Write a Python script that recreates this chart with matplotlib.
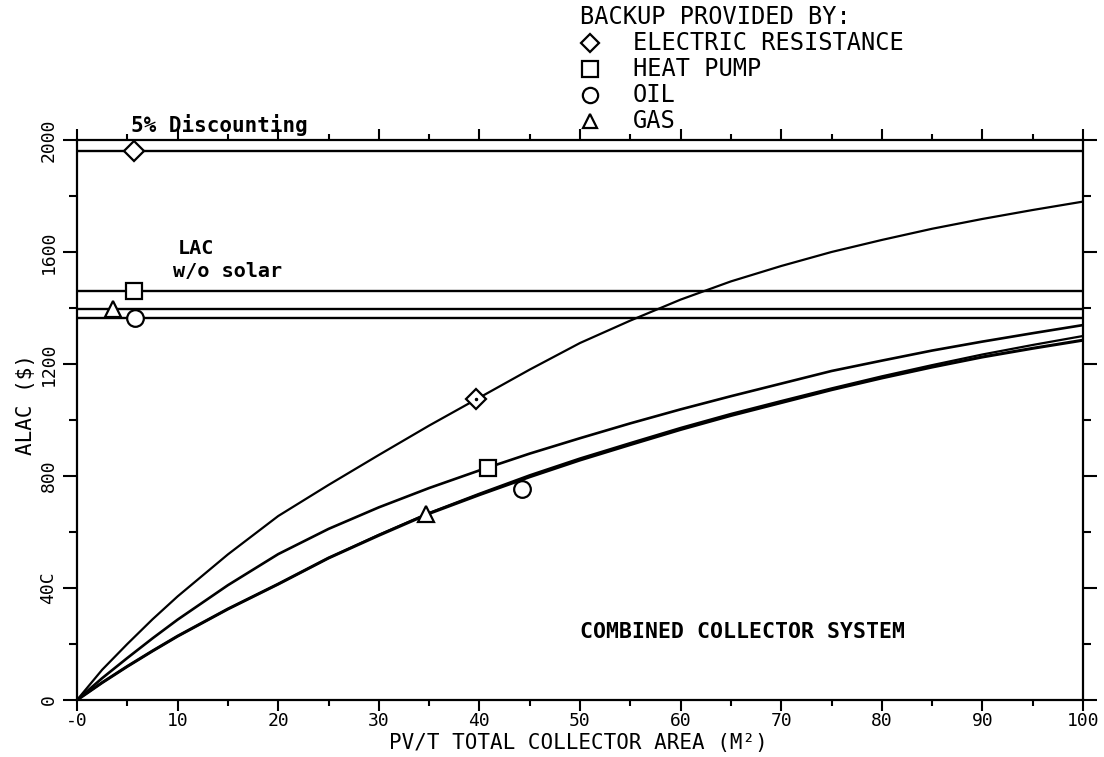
import matplotlib
matplotlib.use("Agg")
import matplotlib.pyplot as plt
from matplotlib.lines import Line2D
from matplotlib.ticker import MultipleLocator

# Collector area (m^2) at which the annualised life-cycle cost was read
area = [0, 2.5, 5, 7.5, 10, 15, 20, 25, 30, 35, 40, 45, 50,
        55, 60, 65, 70, 75, 80, 85, 90, 95, 100]

# ALAC ($) of the combined collector system, by backup fuel
alac_electric = [0, 108, 200, 288, 370, 520, 657, 768, 875, 980, 1080, 1180, 1275,
                 1355, 1430, 1495, 1550, 1600, 1643, 1683, 1718, 1750, 1780]
alac_heatpump = [0, 78, 150, 220, 287, 410, 521, 611, 688, 757, 820, 880, 935,
                 988, 1038, 1085, 1130, 1175, 1212, 1248, 1280, 1310, 1339]
alac_oil = [0, 62, 120, 175, 228, 325, 414, 507, 588, 666, 733, 797, 857,
            912, 966, 1016, 1062, 1108, 1150, 1189, 1225, 1256, 1285]
alac_gas = [0, 62, 120, 175, 228, 325, 414, 507, 590, 668, 737, 803, 863,
            918, 972, 1022, 1068, 1113, 1156, 1196, 1234, 1268, 1300]

# Life-cycle cost without solar, by backup fuel
lac_electric = 1960
lac_heatpump = 1460
lac_gas = 1395
lac_oil = 1363

# Symbol locations on the no-solar lines and on the curves
lac_marker_x = {"electric": 5.7, "heatpump": 5.7, "oil": 5.8, "gas": 3.6}
curve_marker = {"electric": (39.7, 1075), "heatpump": (40.9, 829),
                "oil": (44.2, 755), "gas": (34.7, 664)}

x_ticks = [0, 10, 20, 30, 40, 50, 60, 70, 80, 90, 100]
x_tick_labels = ["-0", "10", "20", "30", "40", "50", "60", "70", "80", "90", "100"]
y_ticks = [0, 400, 800, 1200, 1600, 2000]
y_tick_labels = ["0", "40C", "800", "1200", "1600", "2000"]

legend_labels = ["ELECTRIC RESISTANCE", "HEAT PUMP", "OIL", "GAS"]
symbols = {"electric": "D", "heatpump": "s", "oil": "o", "gas": "^"}
marker_size = {"electric": 10, "heatpump": 12, "oil": 12, "gas": 11}

plt.rcParams["font.family"] = ["DejaVu Sans Mono", "DejaVu Sans"]

W, H = 1104, 757
fig = plt.figure(figsize=(W / 100, H / 100), dpi=100)
ax = fig.add_axes([77 / W, 57 / H, 1006 / W, 560 / H])
ax.set_xlim(0, 100)
ax.set_ylim(0, 2000)


def fx(px):
    return px / W


def fy(py):
    return 1 - py / H


mk = dict(markerfacecolor="white", markeredgecolor="black", markeredgewidth=1.6,
          linestyle="none", zorder=5)

# No-solar reference lines
for key, val in [("electric", lac_electric), ("heatpump", lac_heatpump),
                 ("gas", lac_gas), ("oil", lac_oil)]:
    ax.axhline(val, color="black", lw=1.7, zorder=2)
    ax.plot([lac_marker_x[key]], [val], marker=symbols[key],
            markersize=marker_size[key], **mk)

# ALAC curves
ax.plot(area, alac_electric, color="black", lw=1.6, zorder=3)
ax.plot(area, alac_heatpump, color="black", lw=1.9, zorder=3)
ax.plot(area, alac_gas, color="black", lw=1.6, zorder=3)
ax.plot(area, alac_oil, color="black", lw=2.2, zorder=3)

for key, (cx, cy) in curve_marker.items():
    ax.plot([cx], [cy], marker=symbols[key], markersize=marker_size[key], **mk)
ax.plot([curve_marker["electric"][0]], [curve_marker["electric"][1]],
        marker="o", markersize=1.5, color="black", linestyle="none", zorder=6)

# Axes styling
for sp in ax.spines.values():
    sp.set_linewidth(1.6)
ax.set_xticks(x_ticks)
ax.set_xticklabels(x_tick_labels, fontsize=13)
ax.xaxis.set_minor_locator(MultipleLocator(5))
ax.set_yticks(y_ticks)
ax.set_yticklabels(y_tick_labels, fontsize=13, rotation=90, va="center")
ax.yaxis.set_minor_locator(MultipleLocator(200))
ax.tick_params(which="both", direction="out", top=True, right=True, width=1.5)
ax.tick_params(axis="x", which="major", length=8, pad=1)
ax.tick_params(axis="x", which="minor", length=4)
ax.tick_params(axis="y", which="major", length=10, pad=4)
ax.tick_params(axis="y", which="minor", length=6)

fig.text(fx(578), fy(743), "PV/T TOTAL COLLECTOR AREA (M²)", fontsize=15,
         ha="center", va="center")
fig.text(fx(26), fy(405), "ALAC ($)", fontsize=15, rotation=90,
         ha="center", va="center")

# Annotations
fig.text(fx(131), fy(125), "5% Discounting", fontsize=15, fontweight="bold",
         ha="left", va="center")
ax.text(10.0, 1611, "LAC", fontsize=14.5, fontweight="bold", ha="left", va="center")
ax.text(9.5, 1529, "w/o solar", fontsize=14.5, fontweight="bold", ha="left", va="center")
ax.text(50.0, 243, "COMBINED COLLECTOR SYSTEM", fontsize=15.5, fontweight="bold",
        ha="left", va="center")

# Key
fig.text(fx(580), fy(17), "BACKUP PROVIDED BY:", fontsize=17, ha="left", va="center")
rows = [43, 69, 95, 121]
for key, label, py in zip(["electric", "heatpump", "oil", "gas"], legend_labels, rows):
    fig.add_artist(Line2D([fx(590)], [fy(py)], marker=symbols[key],
                          markersize=marker_size[key] - 1, markerfacecolor="white",
                          markeredgecolor="black", markeredgewidth=1.6,
                          linestyle="none", transform=fig.transFigure))
    fig.text(fx(633), fy(py), label, fontsize=17, ha="left", va="center")

fig.savefig("out.png", dpi=100)
